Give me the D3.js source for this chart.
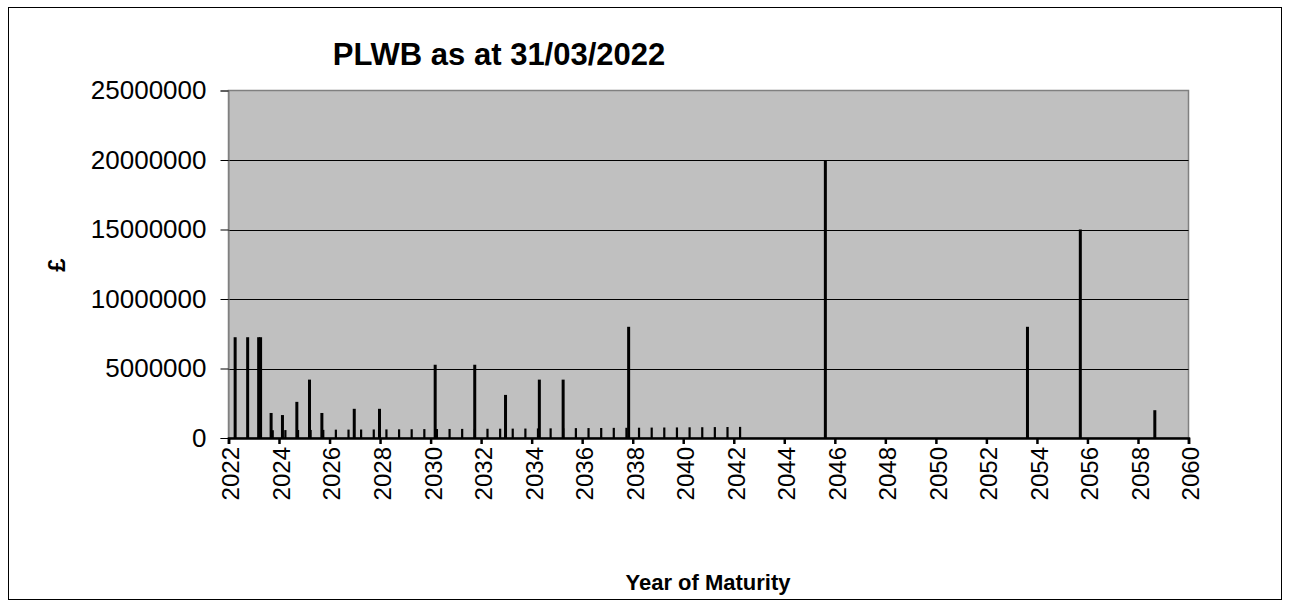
<!DOCTYPE html>
<html><head><meta charset="utf-8">
<script src="https://cdn.jsdelivr.net/npm/d3@7"></script>
<style>body{margin:0;background:#fff}svg{display:block}text{font-family:"Liberation Sans",Arial,sans-serif}</style>
</head><body><svg id="c" width="1290" height="607"></svg>
<script>
const chartTitle = "PLWB as at 31/03/2022";
const xTitle = "Year of Maturity";
const yTitle = "£";

const principalDates = ["2022-04-07","2022-10-05","2023-03-13","2023-04-10","2023-09-09","2024-02-20","2024-09-15","2025-03-17","2025-09-12","2026-12-24","2027-12-24","2030-03-08","2031-10-01","2032-12-19","2034-04-22","2035-04-01","2037-11-03","2045-08-17","2053-08-17","2055-09-20","2058-09-01"];
const principalValues = [7250000,7250000,7250000,7250000,1800000,1650000,2600000,4200000,1800000,2100000,2100000,5270000,5270000,3100000,4200000,4200000,8000000,20000000,8000000,15000000,2000000];

const interestDates = ["2023-10-08","2024-04-08","2024-10-08","2025-04-08","2025-10-08","2026-04-08","2026-10-08","2027-04-08","2027-10-08","2028-04-08","2028-10-08","2029-04-08","2029-10-08","2030-04-08","2030-10-08","2031-04-08","2031-10-08","2032-04-08","2032-10-08","2033-04-08","2033-10-08","2034-04-08","2034-10-08","2035-04-08","2035-10-08","2036-04-08","2036-10-08","2037-04-08","2037-10-08","2038-04-08","2038-10-08","2039-04-08","2039-10-08","2040-04-08","2040-10-08","2041-04-08","2041-10-08","2042-04-08"];
const interestValues = [560000,570000,575000,580000,585000,600000,605000,610000,615000,620000,625000,630000,640000,645000,650000,655000,660000,665000,670000,675000,680000,690000,695000,700000,710000,715000,720000,730000,735000,740000,750000,755000,760000,770000,775000,785000,790000,800000];

const yTicks = [0,5000000,10000000,15000000,20000000,25000000];
const xTickYears = [2022,2024,2026,2028,2030,2032,2034,2036,2038,2040,2042,2044,2046,2048,2050,2052,2054,2056,2058,2060];

const svg = d3.select("#c");
const parse = d3.timeParse("%Y-%m-%d");
const L = 228.5, R = 1188.5, T = 90.5, B = 438;

svg.append("rect").attr("x",8.5).attr("y",7.5).attr("width",1273).attr("height",592)
  .attr("fill","#fff").attr("stroke","#000").attr("stroke-width",1);

const x = d3.scaleTime().domain([new Date(2022,0,1), new Date(2060,0,1)]).range([L, R]);
const y = d3.scaleLinear().domain([0, 25000000]).range([B, T]);

svg.append("rect").attr("x",L).attr("y",T).attr("width",R-L).attr("height",B-T)
  .attr("fill","#C0C0C0").attr("stroke","#808080").attr("stroke-width",1.5);

// gridlines
svg.append("g").selectAll("line").data(yTicks.filter(d=>d>0 && d<25000000)).join("line")
  .attr("x1",L).attr("x2",R).attr("y1",d=>Math.round(y(d))+0.5).attr("y2",d=>Math.round(y(d))+0.5)
  .attr("stroke","#000").attr("stroke-width",1);

// y axis
const yAxis = svg.append("g").attr("transform",`translate(${L},0)`)
  .call(d3.axisLeft(y).tickValues(yTicks).tickFormat(d3.format("d")).tickSize(8).tickPadding(14));
yAxis.select(".domain").attr("stroke","#808080");
yAxis.selectAll("text").attr("font-size",26).attr("fill","#000").attr("font-family","Liberation Sans, Arial, sans-serif");

// bars
const bw = 3;
svg.append("g").selectAll("rect").data(interestDates.map((d,i)=>({d:parse(d),v:interestValues[i]}))).join("rect")
  .attr("x",d=>x(d.d)-bw/2).attr("width",bw-0.8).attr("y",d=>y(d.v)).attr("height",d=>B-y(d.v)).attr("fill","#000");
svg.append("g").selectAll("rect").data(principalDates.map((d,i)=>({d:parse(d),v:principalValues[i]}))).join("rect")
  .attr("x",d=>x(d.d)-bw/2).attr("width",bw).attr("y",d=>y(d.v)).attr("height",d=>B-y(d.v)).attr("fill","#000");

// x axis
const xAxis = svg.append("g").attr("transform",`translate(0,${B})`)
  .call(d3.axisBottom(x).tickValues(xTickYears.map(yr=>new Date(yr,0,1))).tickFormat(d3.timeFormat("%Y")).tickSize(6));
xAxis.select(".domain").attr("stroke","#000").attr("stroke-width",2.5);
xAxis.selectAll(".tick line").attr("stroke","#000").attr("stroke-width",2.5);
xAxis.selectAll("text").attr("font-size",24).attr("fill","#000").attr("font-family","Liberation Sans, Arial, sans-serif")
  .attr("transform","rotate(-90)").attr("text-anchor","end").attr("x",-9).attr("y",2).attr("dy","0.35em");

// titles
svg.append("text").attr("x",499).attr("y",65).attr("text-anchor","middle").attr("font-weight","bold").attr("font-size",31).text(chartTitle);
svg.append("text").attr("x",708).attr("y",590).attr("text-anchor","middle").attr("font-weight","bold").attr("font-size",22).text(xTitle);
svg.append("text").attr("transform","translate(65,265) rotate(-90)").attr("text-anchor","middle").attr("font-weight","bold").attr("font-size",24).text(yTitle);
</script></body></html>
